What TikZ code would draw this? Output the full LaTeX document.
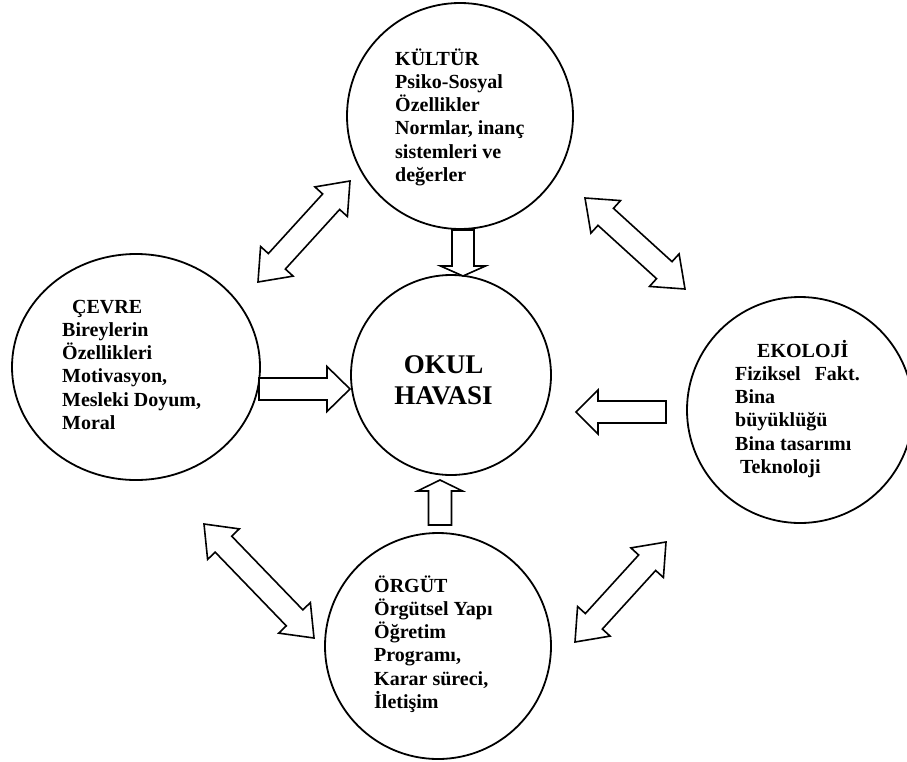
\documentclass[tikz,border=0pt]{standalone}
\usepackage{fontspec}
\setmainfont{Liberation Serif}
\usetikzlibrary{calc,shapes.geometric}
\tikzset{
  circ/.style={circle, draw, line width=1.8pt, inner sep=0pt},
  oval/.style={ellipse, draw, line width=1.8pt, inner sep=0pt},
  blockarrow/.style={draw, line width=1.6pt, line join=miter, fill=white},
  txt/.style={anchor=base west, inner sep=0pt, font=\bfseries\fontsize{20}{23.3}\selectfont},
  bigtxt/.style={anchor=base, inner sep=0pt, font=\bfseries\fontsize{27}{31}\selectfont}
}
\newcommand\dblarrow[2]{%
  \draw[blockarrow] (#1)
    -- ($(#1)!28pt!(#2)!22pt!90:(#2)$)
    -- ($(#1)!28pt!(#2)!11.5pt!90:(#2)$)
    -- ($(#2)!28pt!(#1)!11.5pt!-90:(#1)$)
    -- ($(#2)!28pt!(#1)!22pt!-90:(#1)$)
    -- (#2)
    -- ($(#2)!28pt!(#1)!22pt!90:(#1)$)
    -- ($(#2)!28pt!(#1)!11.5pt!90:(#1)$)
    -- ($(#1)!28pt!(#2)!11.5pt!-90:(#2)$)
    -- ($(#1)!28pt!(#2)!22pt!-90:(#2)$)
    -- cycle;}
% tail, tip, head length, head half width, shaft half width
\newcommand\singlearrow[5]{%
  \draw[blockarrow] (#2)
    -- ($(#2)!#3!(#1)!#4!90:(#1)$)
    -- ($(#2)!#3!(#1)!#5!90:(#1)$)
    -- ($(#1)!#5!-90:(#2)$)
    -- ($(#1)!#5!90:(#2)$)
    -- ($(#2)!#3!(#1)!#5!-90:(#1)$)
    -- ($(#2)!#3!(#1)!#4!-90:(#1)$)
    -- cycle;}
\begin{document}
\begin{tikzpicture}[x=1pt,y=-1pt]
\clip (0,0) rectangle (907,761);
\fill[white] (0,0) rectangle (907,761);

% circles
\node[circ, minimum size=226pt] (kultur) at (460,116) {};
\node[circ, minimum size=200pt] (okul) at (451,375) {};
\node[oval, minimum width=248pt, minimum height=226pt] (cevre) at (136,367) {};
\node[circ, minimum size=226pt] (ekoloji) at (800,410) {};
\node[circ, minimum size=226pt] (orgut) at (438,646) {};

% texts
\node[txt] (tkultur) at (395,65) {\parbox[t]{200pt}{KÜLTÜR\\Psiko-Sosyal\\Özellikler\\Normlar, inanç\\sistemleri ve\\değerler}};
\node[txt] (tcevre) at (62,313) {\parbox[t]{200pt}{\hspace*{10pt}ÇEVRE\\Bireylerin\\Özellikleri\\Motivasyon,\\Mesleki Doyum,\\Moral}};
\node[txt] (tekoloji) at (735,357) {\parbox[t]{200pt}{\hspace*{22pt}EKOLOJİ\\Fiziksel\hspace{14pt}Fakt.\\Bina\\büyüklüğü\\Bina tasarımı\\\hspace*{5pt}Teknoloji}};
\node[txt] (torgut) at (374,592) {\parbox[t]{200pt}{ÖRGÜT\\Örgütsel Yapı\\Öğretim\\Programı,\\Karar süreci,\\İletişim}};
\node[bigtxt] (tokul) at (443.5,373) {\parbox[t]{160pt}{\centering OKUL\\HAVASI}};

% arrow end points
\coordinate (a1) at (350,181); \coordinate (a2) at (258,282);
\coordinate (b1) at (585,198); \coordinate (b2) at (685,289);
\coordinate (c1) at (204,524); \coordinate (c2) at (314,638);
\coordinate (d1) at (666,542); \coordinate (d2) at (575,642);
\coordinate (e1) at (259,389); \coordinate (e2) at (350,389);
\coordinate (f1) at (463,230); \coordinate (f2) at (463,276);
\coordinate (g1) at (440,525); \coordinate (g2) at (440,480);
\coordinate (h1) at (666,412); \coordinate (h2) at (576,412);

% double arrows
\dblarrow{a1}{a2}
\dblarrow{b1}{b2}
\dblarrow{c1}{c2}
\dblarrow{d1}{d2}

% single arrows
\singlearrow{e1}{e2}{23pt}{22.5pt}{11pt}
\singlearrow{f1}{f2}{10pt}{22.5pt}{11pt}
\singlearrow{g1}{g2}{11pt}{22.5pt}{11.5pt}
\singlearrow{h1}{h2}{22pt}{22pt}{11pt}
\end{tikzpicture}
\end{document}
